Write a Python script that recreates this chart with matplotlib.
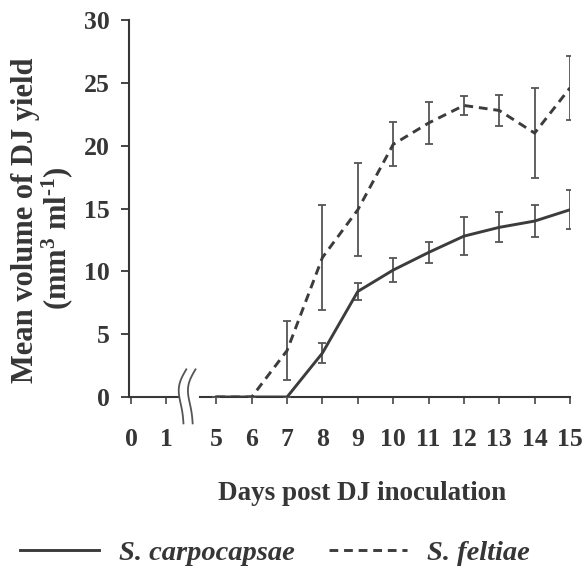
import numpy as np
import matplotlib
matplotlib.use("Agg")
import matplotlib.pyplot as plt

# Data (days post DJ inoculation)
days_early = [0, 1]
days_late = [5, 6, 7, 8, 9, 10, 11, 12, 13, 14, 15]

carpo_early = [0, 0]
carpo_late = [0, 0, 0, 3.5, 8.4, 10.1, 11.5, 12.8, 13.5, 14.0, 14.9]
carpo_err = [0, 0, 0, 0.8, 0.7, 0.95, 0.85, 1.5, 1.2, 1.3, 1.55]

felt_early = [0, 0]
felt_late = [0, 0, 3.7, 11.1, 14.9, 20.1, 21.8, 23.2, 22.8, 21.0, 24.6]
felt_err = [0, 0, 2.35, 4.2, 3.7, 1.75, 1.65, 0.75, 1.2, 3.6, 2.55]

tick_days = [0, 1, 5, 6, 7, 8, 9, 10, 11, 12, 13, 14, 15]

# broken axis: days 5.. are shifted left so the gap 1 -> 5 is ~1.4 units
SHIFT = 2.59


def pos(d):
    d = np.asarray(d, dtype=float)
    return np.where(d >= 5, d - SHIFT, d)


plt.rcParams['font.family'] = ['Liberation Serif', 'DejaVu Serif']
plt.rcParams['font.weight'] = 'bold'
plt.rcParams['mathtext.fontset'] = 'custom'
plt.rcParams['mathtext.rm'] = 'Liberation Serif:bold'
plt.rcParams['mathtext.bf'] = 'Liberation Serif:bold'
plt.rcParams['mathtext.default'] = 'bf'

ink = '#363636'
line_c = '#3c3c3c'
err_c = '#555555'

fig = plt.figure(figsize=(5.88, 5.72), dpi=100)
W, H = 588, 572
ax = fig.add_axes([129 / W, 1 - 397 / H, (570 - 129) / W, (397 - 20) / H])

# lines
ax.plot(pos(days_early), carpo_early, color=line_c, lw=2.1, solid_capstyle='butt', zorder=3)
l1, = ax.plot(pos(days_late), carpo_late, color=line_c, lw=2.1, zorder=3)
ax.plot(pos(days_late), felt_late, color=line_c, lw=2.1, dashes=(3.0, 2.0), zorder=3)
l2, = ax.plot(pos(days_early), felt_early, color=line_c, lw=2.1, dashes=(3.0, 2.0), zorder=3)

ax.errorbar(pos(days_late), carpo_late, yerr=carpo_err, fmt='none', ecolor=err_c,
            elinewidth=1.3, capsize=3, capthick=1.3, zorder=2)
ax.errorbar(pos(days_late), felt_late, yerr=felt_err, fmt='none', ecolor=err_c,
            elinewidth=1.3, capsize=3, capthick=1.3, zorder=2)

ax.set_xlim(-0.06, 15 - SHIFT)
ax.set_ylim(0, 30)

for s in ['top', 'right', 'bottom']:
    ax.spines[s].set_visible(False)
ax.spines['left'].set_color(ink)
ax.spines['left'].set_linewidth(1.5)

# x axis line drawn in two pieces with a break
gap_l, gap_r = 1.33, 1.95
ax.plot([-0.06, gap_l], [0, 0], color=ink, lw=1.5, clip_on=False, zorder=1)
ax.plot([gap_r, 15 - SHIFT], [0, 0], color=ink, lw=1.5, clip_on=False, zorder=1)

# break marks (two wavy strokes)
t = np.linspace(0, 1, 60)
ys = -2.1 + 4.3 * t
for xc in (1.52, 1.78):
    xs = xc - 0.16 * np.sin(np.pi * t) + 0.05 * np.sin(2 * np.pi * t) + 0.08 * (t - 0.5)
    ax.plot(xs, ys, color=err_c, lw=1.3, clip_on=False, zorder=4)

ax.set_xticks(pos(tick_days))
ax.set_xticklabels([str(d) for d in tick_days])
ax.set_yticks(np.arange(0, 31, 5))
ax.tick_params(axis='x', direction='out', length=5, width=1.1, colors=ink, pad=17,
               labelsize=18.5)
ax.tick_params(axis='y', direction='out', length=6, width=1.3, colors=ink, pad=8,
               labelsize=18.5)
for lab in ax.get_xticklabels() + ax.get_yticklabels():
    lab.set_fontweight('bold')
    lab.set_color(ink)

fig.text(362 / W, 1 - 493 / H, 'Days post DJ inoculation', ha='center', va='center',
         fontsize=19.5, fontweight='bold', color=ink)
fig.text(26 / W, 1 - 220 / H, 'Mean volume of DJ yield', rotation=90, ha='center',
         va='center', fontsize=22, fontweight='bold', color=ink)
fig.text(57 / W, 1 - 238 / H, '(mm$^{3}$ ml$^{\u20101}$)', rotation=90, ha='center',
         va='center', fontsize=22, fontweight='bold', color=ink)

fig.legend([l1, l2], ['S. carpocapsae', 'S. feltiae'], loc='center',
           bbox_to_anchor=(275 / W, 1 - 553 / H), ncol=2, frameon=False,
           handlelength=2.75, handletextpad=0.7, columnspacing=1.2,
           borderaxespad=0, borderpad=0,
           prop={'family': 'Liberation Serif', 'weight': 'bold', 'style': 'italic',
                 'size': 20.5}, labelcolor=ink)

fig.savefig('out.png', dpi=100)
